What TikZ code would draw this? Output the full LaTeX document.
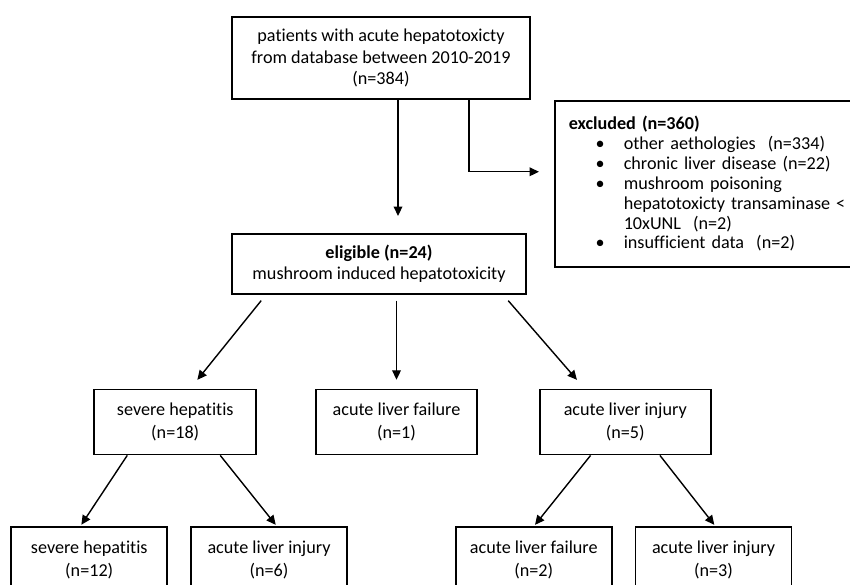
\documentclass[tikz,border=0pt]{standalone}
\usepackage{fontspec}
\setmainfont{Carlito}[Ligatures=NoCommon]
\usepackage{tikz}
\usetikzlibrary{arrows.meta, positioning, calc}
\newcommand{\exclitem}{\makebox[1.65cm][r]{\textbullet\hspace{0.57cm}}}

\begin{document}
\begin{tikzpicture}[
  process/.style={rectangle, draw=black, line width=1.5pt, minimum height=1.95cm, align=center, inner sep=2pt, font=\fontsize{15.5}{19.6}\selectfont},
  mainbox/.style={process, minimum width=8.9cm, font=\fontsize{15.5}{18.3}\selectfont},
  exclbox/.style={rectangle, draw=black, line width=1.5pt, minimum height=4.98cm, inner xsep=0.42cm, text width=8.31cm, align=left, font=\fontsize{15.5}{17}\selectfont},
  arrow/.style={-{Triangle[length=8pt,width=7.5pt]}, line width=1.2pt}
]
\useasboundingbox (0,0) rectangle (25.5,-17.52);
\clip (0,0) rectangle (25.5,-17.52);

% Einschluss
\node[mainbox, minimum height=2.46cm, minimum width=8.94cm] (top) at (11.43,-1.74)
  {patients with acute hepatotoxicty\\ from database between 2010-2019\\ (n=384)};
\node[exclbox, anchor=north west] (excl) at ([xshift=0.69cm]top.south east) {
\textbf{excluded (n=360)}\\
\exclitem other aethologies~ (n=334)\\
\exclitem chronic liver disease (n=22)\\
\exclitem mushroom poisoning\\
\hspace*{1.65cm}hepatotoxicty transaminase <\\
\hspace*{1.65cm}10xUNL~~(n=2)\\
\exclitem insufficient data~ (n=2)
};
\node[mainbox, minimum height=1.8cm, minimum width=8.82cm, below=3.99cm of top, xshift=-0.06cm] (elig)
  {\textbf{eligible (n=24)}\\ mushroom induced hepatotoxicity};

\draw[arrow, shorten >=0.51cm] ([xshift=0.51cm]top.south) -- ([xshift=0.51cm]top.south |- elig.north);
\draw[arrow, shorten >=0.45cm] ([xshift=2.64cm]top.south) |- ([yshift=0.36cm]excl.west);

% Schweregrad
\node[process, minimum width=4.83cm, below=2.82cm of elig, xshift=0.525cm] (alf1) {acute liver failure\\ (n=1)};
\node[process, minimum width=4.86cm, left=1.74cm of alf1] (sh18) {severe hepatitis\\ (n=18)};
\node[process, minimum width=5.13cm, right=1.83cm of alf1] (ali5) {acute liver injury\\ (n=5)};

\draw[arrow, shorten <=0.23cm, shorten >=0.34cm] ([xshift=-3.39cm]elig.south) -- ([xshift=0.45cm]sh18.north);
\draw[arrow, shorten <=0.18cm, shorten >=0.27cm] (alf1.north |- elig.south) -- (alf1.north);
\draw[arrow, shorten <=0.24cm, shorten >=0.35cm] ([xshift=3.72cm]elig.south) -- ([xshift=-1.22cm]ali5.north);

% Verlauf
\node[process, minimum width=4.68cm, below=2.13cm of sh18, xshift=-2.58cm] (sh12) {severe hepatitis\\ (n=12)};
\node[process, minimum width=4.68cm, right=0.66cm of sh12] (ali6) {acute liver injury\\ (n=6)};
\node[process, minimum width=4.68cm, below=2.13cm of ali5, xshift=-2.745cm] (alf2) {acute liver failure\\ (n=2)};
\node[process, minimum width=4.68cm, right=0.66cm of alf2] (ali3) {acute liver injury\\ (n=3)};

\draw[arrow, shorten >=0.06cm] ([xshift=-1.44cm]sh18.south) -- ([xshift=-0.27cm]sh12.north);
\draw[arrow, shorten >=0.06cm] ([xshift=1.35cm]sh18.south) -- ([xshift=0.24cm]ali6.north);
\draw[arrow, shorten >=0.06cm] ([xshift=-1.04cm]ali5.south) -- (alf2.north);
\draw[arrow, shorten >=0.06cm] ([xshift=1.04cm]ali5.south) -- ([xshift=0.06cm]ali3.north);

\end{tikzpicture}
\end{document}
